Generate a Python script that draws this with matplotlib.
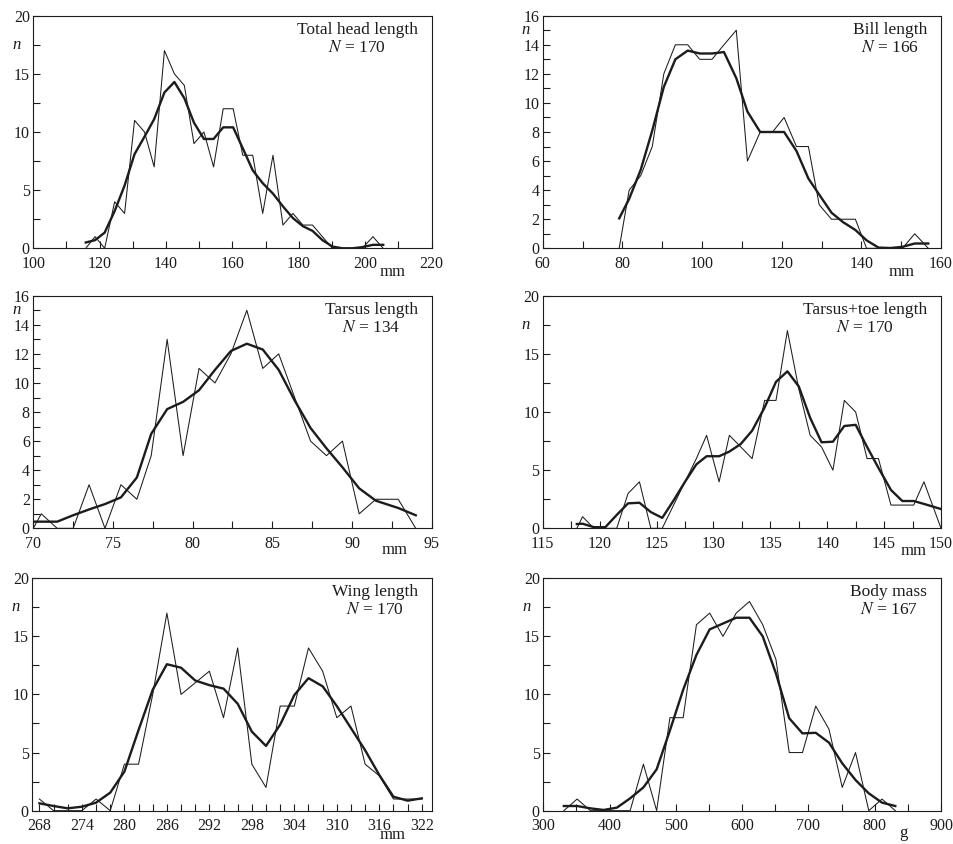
import numpy as np
import matplotlib
matplotlib.use("Agg")
import matplotlib.pyplot as plt

plt.rcParams['font.family'] = ['Liberation Serif', 'DejaVu Serif']
plt.rcParams['mathtext.fontset'] = 'stix'

INK = '#1c1c1c'

# Total head length, 3 mm classes
head_x = [115.8, 118.6, 121.5, 124.5, 127.5, 130.5, 133.5, 136.4, 139.5, 142.5, 145.5,
          148.4, 151.4, 154.3, 157.2, 160.2, 163.1, 166.1, 169.1, 172.2, 175.2, 178.2,
          181.2, 184.1, 187.1, 190.1, 193.1, 196.1, 199.1, 202.3, 205.4]
head_n = [0, 1, 0, 4, 3, 11, 10, 7, 17, 15, 14, 9, 10, 7, 12, 12, 8, 8, 3, 8, 2, 3,
          2, 2, 1, 0, 0, 0, 0, 1, 0]
head_smooth = [0.5, 0.7, 1.35, 3.2, 5.4, 8.1, 9.6, 11.1, 13.4, 14.3, 12.9, 10.8, 9.4,
               9.4, 10.4, 10.4, 8.6, 6.7, 5.6, 4.7, 3.6, 2.6, 1.9, 1.5, 0.7, 0.15,
               0.0, 0.0, 0.1, 0.3, 0.3]

# Bill length
bill_x = [79.2, 81.7, 84.6, 87.5, 90.4, 93.3, 96.4, 99.4, 102.5, 105.5, 108.6, 111.4,
          114.6, 117.7, 120.6, 123.7, 126.7, 129.4, 132.5, 135.4, 138.5, 141.3, 144.3,
          147.3, 150.3, 153.4, 156.8]
bill_n = [0, 4, 5, 7, 12, 14, 14, 13, 13, 14, 15, 6, 8, 8, 9, 7, 7, 3, 2, 2, 2, 0, 0,
          0, 0, 1, 0]
bill_smooth = [2.06, 3.4, 5.4, 8.1, 11.1, 13.0, 13.6, 13.4, 13.4, 13.5, 11.7, 9.4, 8.0,
               8.0, 8.0, 6.7, 4.8, 3.7, 2.45, 1.8, 1.26, 0.55, 0.05, 0.02, 0.1, 0.33, 0.33]

# Tarsus length
tarsus_x = [70.0, 70.5, 71.5, 72.5, 73.5, 74.5, 75.5, 76.5, 77.4, 78.4, 79.4, 80.4, 81.4,
            82.4, 83.4, 84.4, 85.4, 86.4, 87.4, 88.4, 89.4, 90.45, 91.5, 92.9, 94.0]
tarsus_n = [0, 1, 0, 0, 3, 0, 3, 2, 5, 13, 5, 11, 10, 12, 15, 11, 12, 9, 6, 5, 6, 1, 2,
            2, 0]
tarsus_smooth = [0.46, 0.46, 0.46, 0.9, 1.3, 1.67, 2.13, 3.5, 6.5, 8.2, 8.7, 9.5, 10.9,
                 12.2, 12.7, 12.3, 10.9, 8.8, 6.9, 5.5, 4.2, 2.75, 1.9, 1.4, 0.9]

# Tarsus + toe length
toe_x = [118.0, 118.5, 119.5, 120.5, 121.5, 122.5, 123.5, 124.5, 125.5, 126.5, 127.5,
         128.5, 129.4, 130.5, 131.4, 132.4, 133.4, 134.5, 135.5, 136.5, 137.5, 138.5,
         139.5, 140.5, 141.5, 142.5, 143.5, 144.5, 145.6, 146.6, 147.6, 148.5, 150.0]
toe_n = [0, 1, 0, 0, 0, 3, 4, 0, 0, 2, 4, 6, 8, 4, 8, 7, 6, 11, 11, 17, 12, 8, 7, 5, 11,
         10, 6, 6, 2, 2, 2, 4, 0]
toe_smooth = [0.37, 0.4, 0.1, 0.1, 1.15, 2.15, 2.2, 1.4, 0.9, 2.4, 4.0, 5.5, 6.2, 6.2,
              6.6, 7.25, 8.4, 10.4, 12.6, 13.5, 12.2, 9.5, 7.4, 7.45, 8.8, 8.9, 7.0,
              5.2, 3.3, 2.35, 2.35, 2.1, 1.66]

# Wing length
wing_x = [268, 270, 272, 274, 276, 278, 280, 282, 284, 286, 288, 290, 292, 294, 296,
          298, 300, 302, 304, 306, 308, 310, 312, 314, 316, 318, 320, 322]
wing_n = [1, 0, 0, 0, 1, 0, 4, 4, 10, 17, 10, 11, 12, 8, 14, 4, 2, 9, 9, 14, 12, 8, 9,
          4, 3, 1, 1, 1]
wing_smooth = [0.63, 0.4, 0.2, 0.34, 0.69, 1.55, 3.36, 6.94, 10.4, 12.6, 12.3, 11.2,
               10.8, 10.5, 9.2, 6.8, 5.57, 7.4, 9.95, 11.4, 10.7, 9.0, 7.1, 5.2, 3.07,
               1.2, 0.86, 1.06]

# Body mass
mass_x = [331, 351, 371, 391, 411, 431, 451, 471, 491, 511, 531, 551, 571, 591, 611,
          631, 651, 671, 691, 711, 731, 751, 771, 791, 811, 831]
mass_n = [0, 1, 0, 0, 0, 0, 4, 0, 8, 8, 16, 17, 15, 17, 18, 16, 13, 5, 5, 9, 7, 2, 5,
          0, 1, 0]
mass_smooth = [0.4, 0.4, 0.2, 0.06, 0.26, 1.06, 2.0, 3.56, 6.9, 10.4, 13.4, 15.6, 16.1,
               16.6, 16.6, 15.0, 11.8, 7.95, 6.65, 6.7, 5.85, 4.07, 2.64, 1.49, 0.69, 0.4]

titles = ['Total head length', 'Bill length', 'Tarsus length', 'Tarsus+toe length',
          'Wing length', 'Body mass']
sample_sizes = [170, 166, 134, 170, 170, 167]
units = ['mm', 'mm', 'mm', 'mm', 'mm', 'g']

fig = plt.figure(figsize=(9.54, 8.44), dpi=100)


def draw_panel(rect, x, raw, smooth, title, n_total, unit, xlim, xticks, xminor,
               ylim, yticks, yminor, n_y, unit_pos):
    ax = fig.add_axes(rect)
    ax.plot(x, raw, color=INK, lw=0.75)
    ax.plot(x, smooth, color=INK, lw=1.7, solid_joinstyle='round')
    ax.set_xlim(*xlim)
    ax.set_ylim(*ylim)
    ax.set_xticks(xticks)
    ax.set_xticks(xminor, minor=True)
    ax.set_yticks(yticks)
    ax.set_yticks(yminor, minor=True)
    ax.tick_params(which='both', direction='in', length=5, width=0.8, color=INK,
                   labelsize=11.5, labelcolor=INK)
    ax.tick_params(axis='y', pad=2.5)
    ax.tick_params(axis='x', pad=5.5)
    for s in ax.spines.values():
        s.set_linewidth(0.8)
        s.set_color(INK)
    ax.text(0.965, 0.975, f'{title}\n$N$ = {n_total}', transform=ax.transAxes,
            ha='right', va='top', multialignment='center', fontsize=12.5, color=INK)
    ax.text(-0.043, n_y, 'n', transform=ax.get_yaxis_transform(), ha='center',
            va='center', fontsize=12, style='italic', color=INK)
    # unit label sits under the axis, baseline given in axes fraction
    ax.text(unit_pos[0], unit_pos[1], unit, transform=ax.transAxes, ha='center',
            va='baseline', fontsize=12, color=INK)
    return ax


draw_panel((0.0349, 0.7058, 0.4176, 0.2756), head_x, head_n, head_smooth, titles[0],
           sample_sizes[0], units[0], (100, 220), np.arange(100, 221, 20),
           np.arange(110, 220, 10), (0, 20), np.arange(0, 21, 5),
           np.arange(0, 20.1, 2.5), 17.5, (0.903, -0.12))
draw_panel((0.5689, 0.7058, 0.4175, 0.2756), bill_x, bill_n, bill_smooth, titles[1],
           sample_sizes[1], units[1], (60, 160), np.arange(60, 161, 20),
           np.arange(70, 160, 10), (0, 16), np.arange(0, 17, 2),
           np.arange(0, 16.1, 1), 15, (0.902, -0.12))
draw_panel((0.0349, 0.3740, 0.4176, 0.2756), tarsus_x, tarsus_n, tarsus_smooth,
           titles[2], sample_sizes[2], units[2], (70, 95), np.arange(70, 96, 5),
           np.arange(72.5, 95, 5), (0, 16), np.arange(0, 17, 2),
           np.arange(0, 16.1, 1), 15, (0.908, -0.11))
draw_panel((0.5689, 0.3740, 0.4175, 0.2756), toe_x, toe_n, toe_smooth, titles[3],
           sample_sizes[3], units[3], (115, 150), np.arange(115, 151, 5),
           np.arange(117.5, 150, 5), (0, 20), np.arange(0, 21, 5),
           np.arange(0, 20.1, 2.5), 17.5, (0.932, -0.115))
draw_panel((0.0339, 0.0395, 0.4186, 0.2754), wing_x, wing_n, wing_smooth, titles[4],
           sample_sizes[4], units[4], (267, 323.4), np.arange(268, 323, 6),
           np.arange(268, 323, 2), (0, 20), np.arange(0, 21, 5),
           np.arange(0, 20.1, 2.5), 17.5, (0.903, -0.122))
draw_panel((0.5695, 0.0395, 0.4169, 0.2754), mass_x, mass_n, mass_smooth, titles[5],
           sample_sizes[5], units[5], (300, 900), np.arange(300, 901, 100),
           np.arange(350, 900, 100), (0, 20), np.arange(0, 21, 5),
           np.arange(0, 20.1, 2.5), 17.5, (0.905, -0.115))

fig.savefig('out.png', dpi=100)
